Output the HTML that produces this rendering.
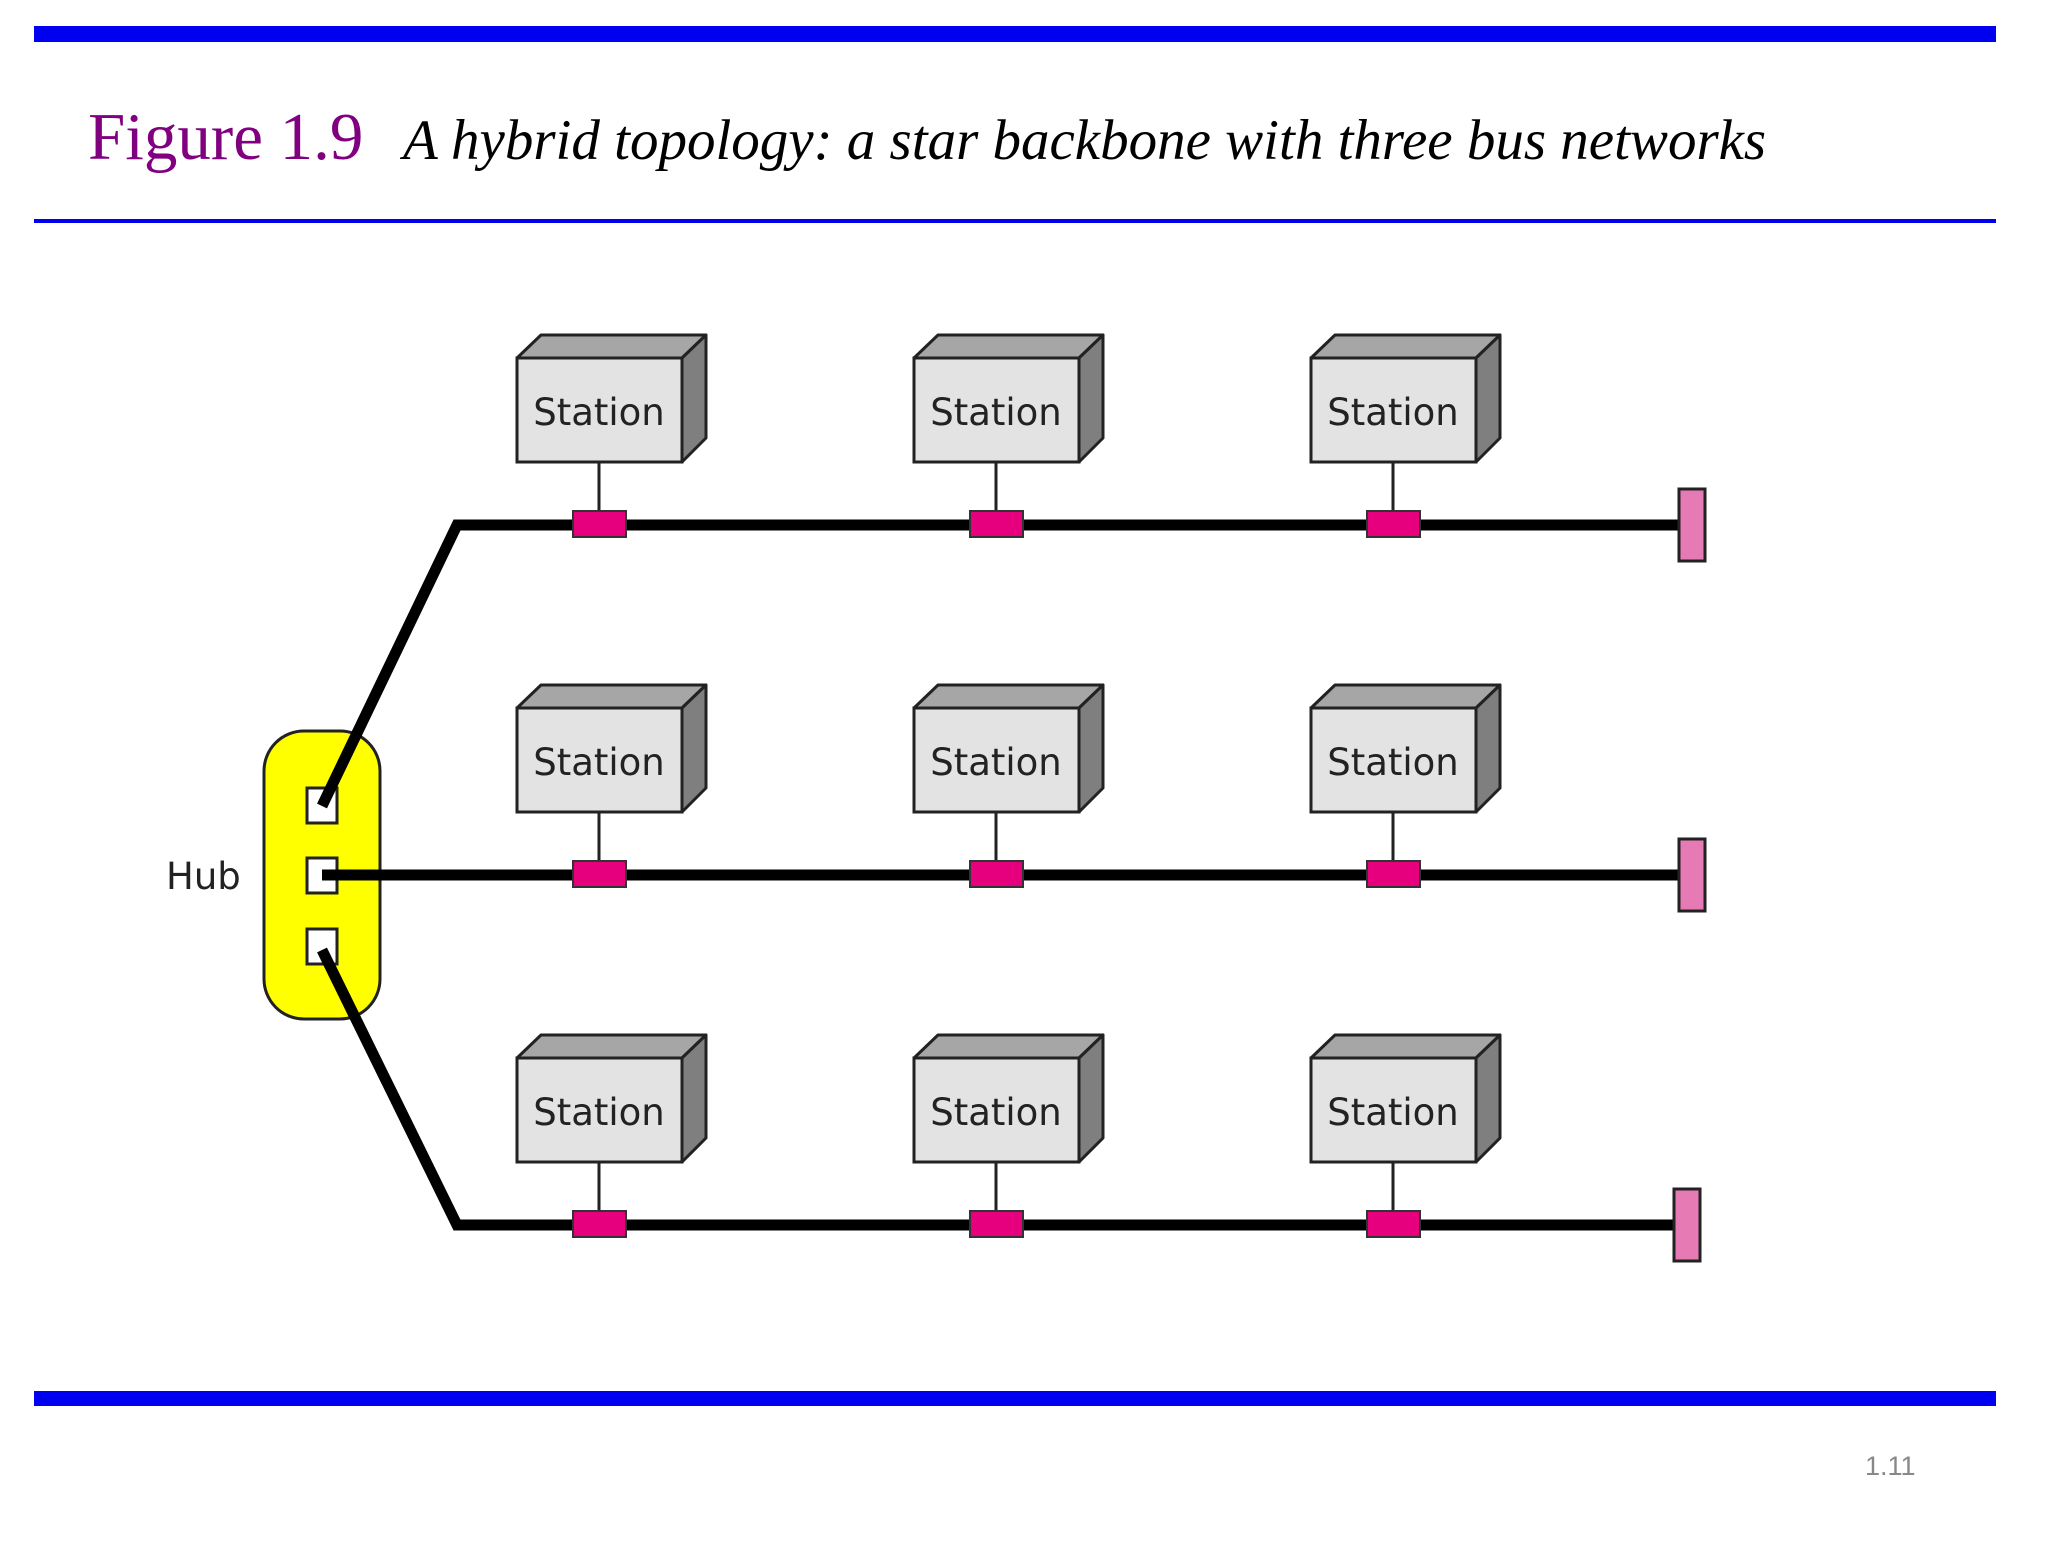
<!DOCTYPE html>
<html><head><meta charset="utf-8"><style>
html,body{margin:0;padding:0;background:#fff;}
</style></head><body>
<svg width="2048" height="1536" viewBox="0 0 2048 1536" xmlns="http://www.w3.org/2000/svg">
<rect x="34" y="26" width="1962" height="16" fill="#0000f0"/>
<rect x="34" y="219" width="1962" height="4" fill="#0000f0"/>
<rect x="34" y="1391" width="1962" height="15" fill="#0000f0"/>
<text x="88" y="159" font-family="Liberation Serif, serif" font-size="67" fill="#800080">Figure 1.9</text>
<text x="403" y="159" font-family="Liberation Serif, serif" font-size="57" font-style="italic" fill="#000">A hybrid topology: a star backbone with three bus networks</text>
<text x="1865" y="1475" font-family="Liberation Sans, sans-serif" font-size="27" fill="#888">1.11</text>
<defs>
<g id="st">
<polygon points="0,0 24,-23 189,-23 165,0" fill="#a6a6a6" stroke="#222" stroke-width="3" stroke-linejoin="round"/>
<polygon points="165,0 189,-23 189,80 165,104" fill="#7f7f7f" stroke="#222" stroke-width="3" stroke-linejoin="round"/>
<rect x="0" y="0" width="165" height="104" fill="#e3e3e3" stroke="#222" stroke-width="3"/>
<text x="82" y="67" text-anchor="middle" font-family="DejaVu Sans, sans-serif" font-size="37" fill="#222">Station</text>
<line x1="82" y1="104" x2="82" y2="152" stroke="#222" stroke-width="3"/>
</g>
</defs>
<!-- hub -->
<rect x="264" y="731" width="116" height="288" rx="40" fill="#ffff00" stroke="#222" stroke-width="3"/>
<rect x="307" y="788" width="30" height="35" fill="#fff" stroke="#222" stroke-width="3"/>
<rect x="307" y="858" width="30" height="35" fill="#fff" stroke="#222" stroke-width="3"/>
<rect x="307" y="929" width="30" height="35" fill="#fff" stroke="#222" stroke-width="3"/>
<!-- hub lines -->
<polyline points="322,806 457,525 1680,525" fill="none" stroke="#000" stroke-width="11" stroke-linejoin="miter"/>
<polyline points="322,875 1680,875" fill="none" stroke="#000" stroke-width="11"/>
<polyline points="322,950 457,1225 1675,1225" fill="none" stroke="#000" stroke-width="11" stroke-linejoin="miter"/>
<text x="166" y="889" font-family="DejaVu Sans, sans-serif" font-size="37" fill="#222">Hub</text>
<!-- stations -->
<use href="#st" x="517" y="358"/><use href="#st" x="914" y="358"/><use href="#st" x="1311" y="358"/>
<use href="#st" x="517" y="708"/><use href="#st" x="914" y="708"/><use href="#st" x="1311" y="708"/>
<use href="#st" x="517" y="1058"/><use href="#st" x="914" y="1058"/><use href="#st" x="1311" y="1058"/>
<!-- connectors -->
<g fill="#e6007e" stroke="#333" stroke-width="2">
<rect x="573" y="511" width="53" height="26"/><rect x="970" y="511" width="53" height="26"/><rect x="1367" y="511" width="53" height="26"/>
<rect x="573" y="861" width="53" height="26"/><rect x="970" y="861" width="53" height="26"/><rect x="1367" y="861" width="53" height="26"/>
<rect x="573" y="1211" width="53" height="26"/><rect x="970" y="1211" width="53" height="26"/><rect x="1367" y="1211" width="53" height="26"/>
</g>
<g fill="#e57ab5" stroke="#222" stroke-width="3">
<rect x="1679" y="489" width="26" height="72"/>
<rect x="1679" y="839" width="26" height="72"/>
<rect x="1674" y="1189" width="26" height="72"/>
</g>
</svg>
</body></html>
